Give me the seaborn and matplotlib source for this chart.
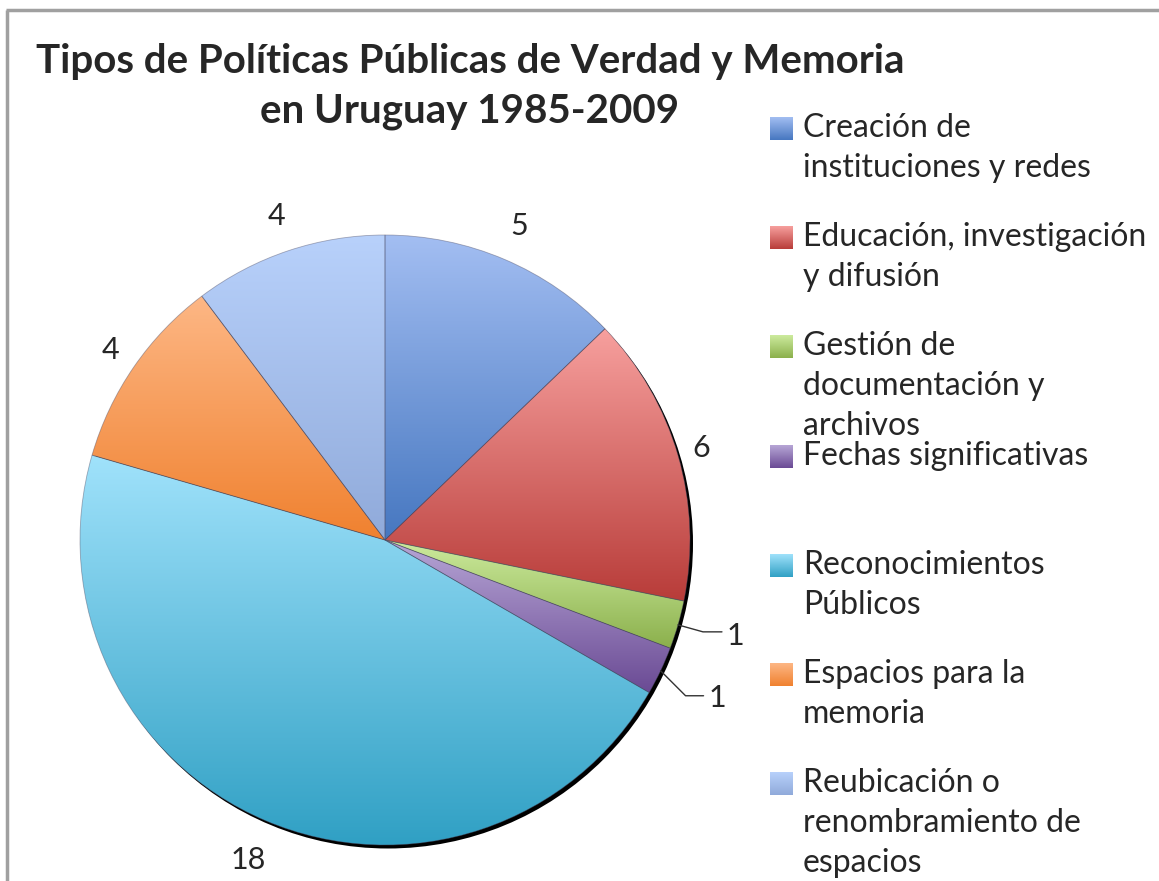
import numpy as np
import matplotlib
matplotlib.use('Agg')
import matplotlib.pyplot as plt
import seaborn as sns
from matplotlib.patches import Circle

# datos
categories = ['Creación de\ninstituciones y redes',
              'Educación, investigación\ny difusión',
              'Gestión de\ndocumentación y\narchivos',
              'Fechas significativas',
              'Reconocimientos\nPúblicos',
              'Espacios para la\nmemoria',
              'Reubicación o\nrenombramiento de\nespacios']
values = [5, 6, 1, 1, 18, 4, 4]
top_colors = ['#A3BEF2', '#F7A09E', '#CDEB9E', '#B7A6D6', '#A0E2FB', '#FDB785', '#B8D1FB']
bottom_colors = ['#4677C0', '#B83C39', '#8BB04C', '#6A4A94', '#30A0C4', '#F0812F', '#90AADA']
title_lines = ['Tipos de Políticas Públicas de Verdad y Memoria', 'en Uruguay 1985-2009']

sns.set_theme(style='white')
plt.rcParams['font.family'] = ['Lato', 'DejaVu Sans']

W, H = 1159, 881
fig = plt.figure(figsize=(W / 100, H / 100), dpi=100)
ax = fig.add_axes([0, 0, 1, 1])

cx, cy, R = 385, H - 540, 305


def grad(top, bottom, n=256):
    return np.array(sns.blend_palette([top, bottom], n_colors=n))[:, None, :]


# sombra
ax.add_patch(Circle((cx + 3, cy - 3.5), R, facecolor='black', edgecolor='none', zorder=0))

wedges, _ = ax.pie(values, center=(cx, cy), radius=R, startangle=90, counterclock=False,
                   wedgeprops=dict(edgecolor=(0.3, 0.3, 0.4, 0.45), linewidth=0.6))

for w, c1, c2 in zip(wedges, top_colors, bottom_colors):
    t = np.radians(np.linspace(w.theta1, w.theta2, 200))
    xs = np.r_[cx, cx + R * np.cos(t)]
    ys = np.r_[cy, cy + R * np.sin(t)]
    im = ax.imshow(grad(c1, c2), extent=(xs.min(), xs.max(), ys.min(), ys.max()),
                   origin='upper', aspect='auto', interpolation='bilinear', zorder=1)
    im.set_clip_path(w)
    w.set_facecolor('none')
    w.set_zorder(2)

# etiquetas de valores
label_dist = [1.12, 1.08, None, None, 1.14, 1.095, 1.12]
leader = {2: ((25, -7), 19, -4), 3: ((25, -25), 18, -2)}
for i, (w, v) in enumerate(zip(wedges, values)):
    mid = np.radians((w.theta1 + w.theta2) / 2)
    if i in leader:
        ex, ey = cx + R * np.cos(mid), cy + R * np.sin(mid)
        (dx, dy), run, off = leader[i]
        ax.plot([ex, ex + dx, ex + dx + run], [ey, ey + dy, ey + dy], color='#333333', lw=1, zorder=3)
        ax.text(ex + dx + run + 5, ey + dy + off, str(v), fontsize=22, ha='left', va='center')
    else:
        d = label_dist[i] * R
        ax.text(cx + d * np.cos(mid), cy + d * np.sin(mid), str(v), fontsize=22,
                ha='center', va='center')

# título
for line, y in zip(title_lines, [62, 112]):
    ax.text(470, H - y, line, fontsize=29, fontweight='bold', ha='center', va='center')

# leyenda
leg_y = [129, 238, 347, 457, 566, 675, 784]
for lab, y, c1, c2 in zip(categories, leg_y, top_colors, bottom_colors):
    ax.imshow(grad(c1, c2), extent=(770, 793, H - y - 11, H - y + 12), origin='upper',
              aspect='auto', interpolation='bilinear', zorder=1)
    ax.text(803, H - y + 16, lab, fontsize=23, ha='left', va='top', linespacing=1.42)

# borde gris
ax.plot([6, W], [H - 9.5, H - 9.5], color='#A0A0A0', lw=2.5, zorder=5, solid_capstyle='butt')
ax.plot([6.5, 6.5], [0, H - 9.5], color='#A0A0A0', lw=2.5, zorder=5, solid_capstyle='butt')

ax.set_xlim(0, W)
ax.set_ylim(0, H)
ax.set_aspect('auto')
ax.axis('off')

fig.savefig('out.png', dpi=100, facecolor='white')
